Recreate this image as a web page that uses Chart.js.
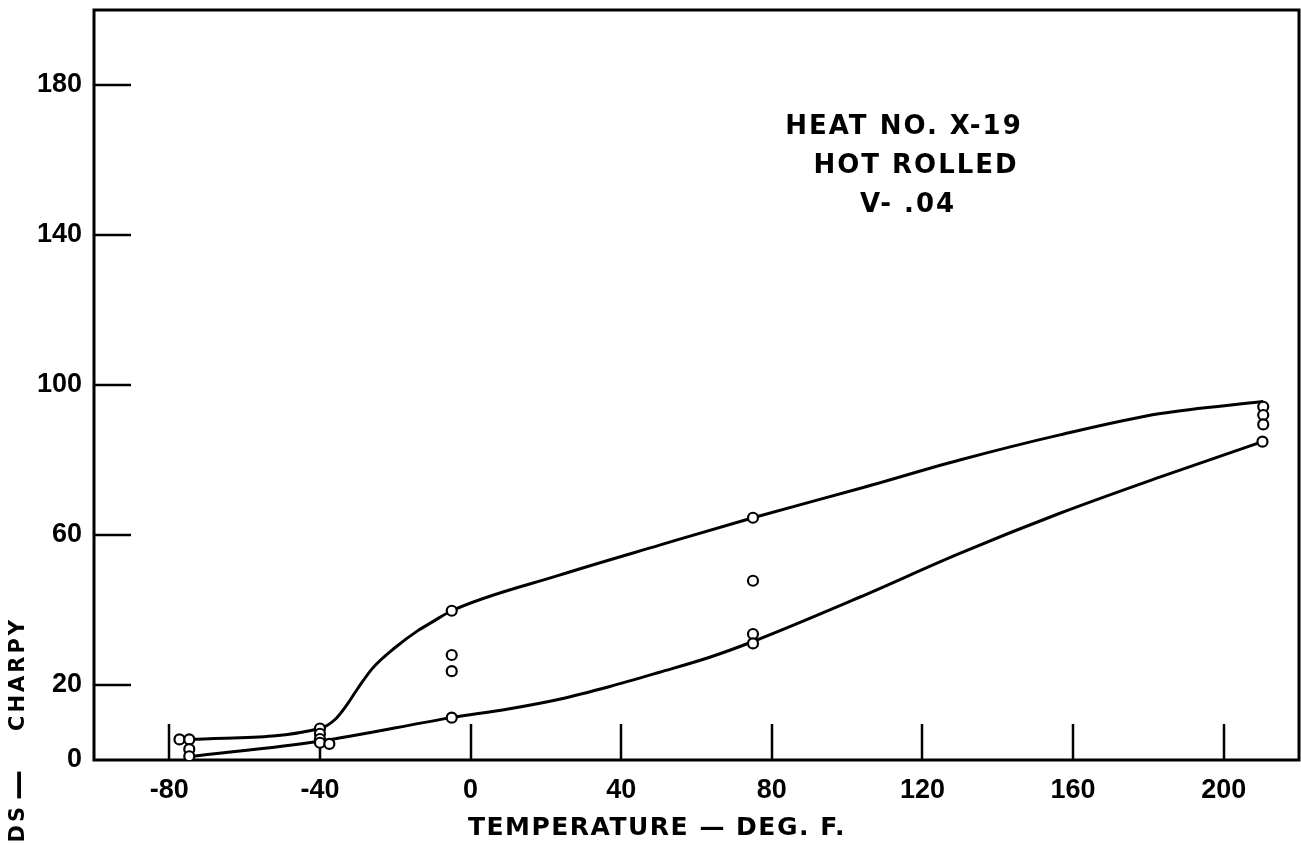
<!DOCTYPE html>
<html>
<head>
<meta charset="utf-8">
<script src="https://cdn.jsdelivr.net/npm/chart.js@4.4.1/dist/chart.umd.min.js"></script>
<style>
  html, body { margin: 0; padding: 0; background: #fff; overflow: hidden; }
  #wrap { width: 1301px; height: 846px; }
</style>
</head>
<body>
<div id="wrap"><canvas id="charpy" width="1301" height="846"></canvas></div>
<script>
// Charpy impact test results, heat X-19, hot rolled, V-.04
// Individual specimens: temperature (deg F) and energy reading
const specimenTemps = [
  -77.3, -74.7, -74.7, -74.7,
  -40, -40, -40, -40, -37.5,
  -5, -5, -5, -5,
  75, 75, 75, 75,
  210.5, 210.5, 210.5, 210.3
];
const specimenValues = [
  5.5, 5.5, 2.9, 1.0,
  8.4, 7.0, 5.6, 4.6, 4.3,
  39.8, 28.0, 23.7, 11.3,
  64.6, 47.8, 33.6, 31.1,
  94.2, 92.0, 89.5, 84.9
];

// Upper scatter-band curve
const upperTemps  = [-74.7, -40, -36, -33, -30, -26, -20, -14, -10, -5, 23.6, 50.2, 75, 103.3, 129.9, 156.5, 183.2, 210.5];
const upperValues = [5.4, 8.4, 10.8, 14.5, 19.0, 24.5, 30.0, 34.5, 36.9, 39.8, 49.3, 57.3, 64.6, 72.4, 80.0, 86.7, 92.4, 95.6];

// Lower scatter-band curve
const lowerTemps  = [-74.7, -40, -5, 10, 23.6, 37, 50.2, 63.5, 75, 103.3, 129.9, 156.5, 183.2, 210.3];
const lowerValues = [0.9, 5.0, 11.3, 13.6, 16.2, 19.6, 23.4, 27.4, 31.6, 43.4, 55.1, 65.8, 75.5, 84.9];

// Axis ticks
const xTickValues = [-80, -40, 0, 40, 80, 120, 160, 200];
const yTickValues = [0, 20, 60, 100, 140, 180];

const xAxisTitle = 'TEMPERATURE — DEG. F.';
const yAxisTitleParts = ['DS', '—', 'CHARPY'];
const noteLines = ['HEAT NO. X-19', 'HOT ROLLED', 'V- .04'];

const toPoints = (xs, ys) => xs.map((x, i) => ({ x: x, y: ys[i] }));

const INK = '#000';
const LETTER_FONT = "'DejaVu Sans', Verdana, sans-serif";
const NUMBER_FONT = "'Liberation Sans', Arial, sans-serif";

// Frame, inward tick marks and free-standing lettering
const paperPlugin = {
  id: 'paper',
  beforeDatasetsDraw(chart) {
    const { ctx, chartArea: a, scales } = chart;
    ctx.save();
    ctx.strokeStyle = INK;
    ctx.lineCap = 'butt';
    ctx.lineWidth = 3;
    ctx.strokeRect(a.left, a.top, a.right - a.left, a.bottom - a.top);

    ctx.lineWidth = 2.5;
    xTickValues.forEach(v => {
      const px = Math.round(scales.x.getPixelForValue(v));
      ctx.beginPath();
      ctx.moveTo(px, a.bottom);
      ctx.lineTo(px, a.bottom - 36);
      ctx.stroke();
    });
    yTickValues.filter(v => v !== 0).forEach(v => {
      const py = Math.round(scales.y.getPixelForValue(v));
      ctx.beginPath();
      ctx.moveTo(a.left, py);
      ctx.lineTo(a.left + 37, py);
      ctx.stroke();
    });
    ctx.restore();
  },
  afterDraw(chart) {
    const { ctx } = chart;
    ctx.save();
    ctx.fillStyle = INK;
    ctx.textBaseline = 'middle';

    // Specimen note
    ctx.font = 'bold 26px ' + LETTER_FONT;
    ctx.letterSpacing = '2px';
    ctx.textAlign = 'center';
    const noteX = [904, 916, 908];
    const noteY = [127, 166, 205];
    noteLines.forEach((t, i) => ctx.fillText(t, noteX[i], noteY[i]));

    // Horizontal axis title
    ctx.font = 'bold 25px ' + LETTER_FONT;
    ctx.letterSpacing = '1.5px';
    ctx.fillText(xAxisTitle, 657, 828);

    // Vertical axis title, read bottom to top; each piece ends at the given height
    ctx.translate(19, 0);
    ctx.rotate(-Math.PI / 2);
    ctx.font = 'bold 21px ' + LETTER_FONT;
    ctx.letterSpacing = '3px';
    ctx.textAlign = 'right';
    const partEnds = [807, 770, 620];
    yAxisTitleParts.forEach((t, i) => {
      if (t === '—') {
        ctx.save();
        ctx.font = 'bold 30px ' + LETTER_FONT;
        ctx.letterSpacing = '0px';
        ctx.fillText(t, -partEnds[i], 0);
        ctx.restore();
      } else {
        ctx.fillText(t, -partEnds[i] + 3, 0);
      }
    });
    ctx.restore();
  }
};

new Chart(document.getElementById('charpy'), {
  type: 'scatter',
  data: {
    datasets: [
      {
        label: 'Specimens',
        data: toPoints(specimenTemps, specimenValues),
        showLine: false,
        pointRadius: 5,
        pointBorderWidth: 2.2,
        pointBackgroundColor: '#fff',
        pointBorderColor: INK
      },
      {
        label: 'Upper band',
        data: toPoints(upperTemps, upperValues),
        showLine: true,
        borderColor: INK,
        borderWidth: 3,
        pointRadius: 0,
        cubicInterpolationMode: 'monotone',
        fill: false
      },
      {
        label: 'Lower band',
        data: toPoints(lowerTemps, lowerValues),
        showLine: true,
        borderColor: INK,
        borderWidth: 3,
        pointRadius: 0,
        cubicInterpolationMode: 'monotone',
        fill: false
      }
    ]
  },
  options: {
    responsive: false,
    animation: false,
    devicePixelRatio: 1,
    layout: { autoPadding: false, padding: { left: 0, right: 2, top: 10, bottom: 0 } },
    plugins: {
      legend: { display: false },
      tooltip: { enabled: false },
      title: { display: false }
    },
    scales: {
      x: {
        type: 'linear',
        min: -100,
        max: 220,
        grid: { display: false, drawTicks: false },
        border: { display: false },
        afterBuildTicks: s => { s.ticks = xTickValues.map(v => ({ value: v })); },
        afterFit: s => { s.height = 86; s.paddingLeft = 0; s.paddingRight = 0; },
        ticks: {
          color: INK,
          padding: 14,
          maxRotation: 0,
          autoSkip: false,
          font: { family: NUMBER_FONT, size: 27, weight: 'bold' },
          callback: v => String(v)
        }
      },
      y: {
        type: 'linear',
        min: 0,
        max: 200,
        grid: { display: false, drawTicks: false },
        border: { display: false },
        afterBuildTicks: s => { s.ticks = yTickValues.map(v => ({ value: v })); },
        afterFit: s => { s.width = 94; s.paddingTop = 0; s.paddingBottom = 0; },
        ticks: {
          color: INK,
          padding: 12,
          autoSkip: false,
          font: { family: NUMBER_FONT, size: 27, weight: 'bold' },
          callback: v => String(v)
        }
      }
    }
  },
  plugins: [paperPlugin]
});
</script>
</body>
</html>
